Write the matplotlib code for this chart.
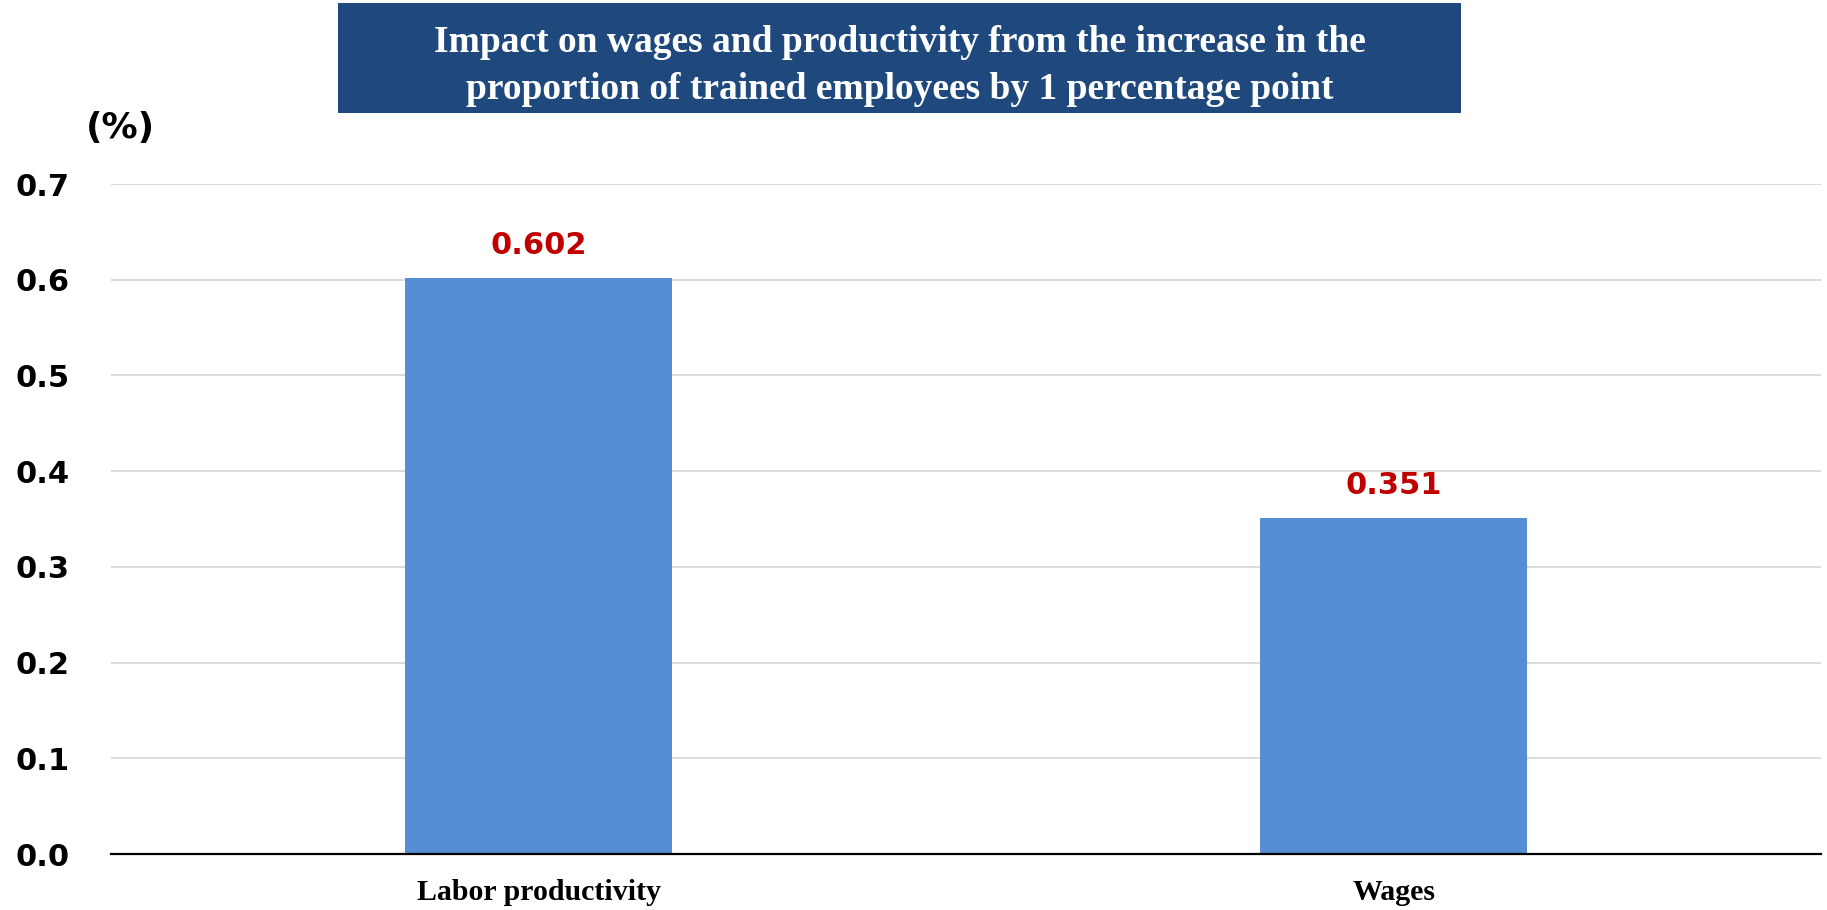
import numpy as np
import matplotlib.pyplot as plt
from matplotlib.patches import Rectangle

# données
categories = ["Labor productivity", "Wages"]
valeurs = [0.602, 0.351]
graduations = [0.0, 0.1, 0.2, 0.3, 0.4, 0.5, 0.6, 0.7]
titre = ("Impact on wages and productivity from the increase in the\n"
         "proportion of trained employees by 1 percentage point")

bleu_barre = "#558ED5"
bleu_titre = "#1F497D"
rouge = "#C00000"

fig = plt.figure(figsize=(18.27, 9.10), dpi=100)
ax = fig.add_axes([0.0608, 0.0615, 0.936, 0.7363])

x = np.arange(len(categories))
barres = ax.bar(x, valeurs, width=0.313, color=bleu_barre, zorder=2)

ax.set_xlim(-0.5, 1.5)
ax.set_ylim(0, 0.7)
ax.set_yticks(graduations)
ax.set_yticklabels([f"{g:.1f}" for g in graduations],
                   fontsize=22, fontweight="bold", family="DejaVu Sans")
ax.set_xticks(x)
ax.set_xticklabels(categories, fontsize=21.5, fontweight="bold",
                   family="Liberation Serif")
ax.tick_params(axis="y", length=0, pad=30)
ax.tick_params(axis="x", length=0, pad=18)

# grille et axe horizontal
ax.grid(axis="y", color="#D9D9D9", linewidth=1.3, zorder=0)
for s in ["left", "right", "top"]:
    ax.spines[s].set_visible(False)
ax.spines["bottom"].set_color("black")
ax.spines["bottom"].set_linewidth(1.6)
ax.spines["bottom"].set_zorder(3)

# valeurs au-dessus des barres
for xi, v in zip(x, valeurs):
    ax.annotate(f"{v:.3f}", (xi, v), xytext=(0, 13), textcoords="offset points",
                ha="center", va="bottom", color=rouge, fontsize=22,
                fontweight="bold", family="DejaVu Sans")

# unité
fig.text(120 / 1827, 1 - 128 / 910, "(%)", ha="center", va="center",
         fontsize=26, fontweight="bold", family="DejaVu Sans")

# bandeau du titre
fig.patches.append(Rectangle((338 / 1827, 1 - 113 / 910), (1461 - 338) / 1827,
                             110 / 910, transform=fig.transFigure,
                             facecolor=bleu_titre, edgecolor="none"))
fig.text(900 / 1827, 1 - 66 / 910, titre, ha="center", va="center",
         color="white", fontsize=27, fontweight="bold",
         family="Liberation Serif", linespacing=1.45)

plt.savefig("out.png", dpi=100)
